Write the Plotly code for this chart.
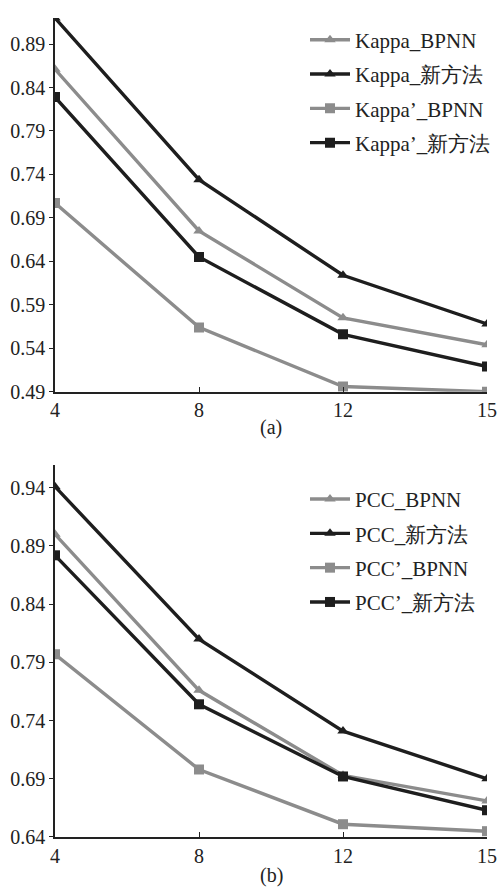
import plotly.graph_objects as go

x_labels = ["4", "8", "12", "15"]

kappa_bpnn = [0.861, 0.675, 0.575, 0.544]
kappa_new = [0.920, 0.734, 0.624, 0.568]
kappa2_bpnn = [0.707, 0.564, 0.496, 0.490]
kappa2_new = [0.829, 0.645, 0.556, 0.519]

pcc_bpnn = [0.900, 0.766, 0.693, 0.671]
pcc_new = [0.941, 0.810, 0.731, 0.690]
pcc2_bpnn = [0.797, 0.698, 0.651, 0.645]
pcc2_new = [0.882, 0.754, 0.692, 0.663]

kappa_ticks = [0.49, 0.54, 0.59, 0.64, 0.69, 0.74, 0.79, 0.84, 0.89]
pcc_ticks = [0.64, 0.69, 0.74, 0.79, 0.84, 0.89, 0.94]

GRAY = "#8c8c8c"
DARK = "#1e1e1e"
FONT = "Liberation Serif"

fig = go.Figure()

def add(name, ys, color, symbol, xa, ya, legend):
    fig.add_trace(go.Scatter(
        x=x_labels, y=ys, name=name, mode="lines+markers",
        line=dict(color=color, width=3.4),
        marker=dict(symbol=symbol, size=10, color=color),
        xaxis=xa, yaxis=ya, legend=legend, legendgroup=name))

add("Kappa_BPNN", kappa_bpnn, GRAY, "triangle-up", "x", "y", "legend")
add("Kappa_新方法", kappa_new, DARK, "triangle-up", "x", "y", "legend")
add("Kappa’_BPNN", kappa2_bpnn, GRAY, "square", "x", "y", "legend")
add("Kappa’_新方法", kappa2_new, DARK, "square", "x", "y", "legend")

add("PCC_BPNN", pcc_bpnn, GRAY, "triangle-up", "x2", "y2", "legend2")
add("PCC_新方法", pcc_new, DARK, "triangle-up", "x2", "y2", "legend2")
add("PCC’_BPNN", pcc2_bpnn, GRAY, "square", "x2", "y2", "legend2")
add("PCC’_新方法", pcc2_new, DARK, "square", "x2", "y2", "legend2")

xcommon = dict(type="category", range=[0, 3], showline=True, linecolor="#222",
               linewidth=1.5, ticks="inside", ticklen=5, tickcolor="#222",
               showgrid=False, zeroline=False, automargin=False,
               tickfont=dict(family=FONT, size=20, color="#222"))
ycommon = dict(showline=True, linecolor="#222", linewidth=1.5, ticks="outside",
               ticklen=4, tickcolor="#222", showgrid=False, zeroline=False,
               automargin=False,
               tickformat=".2f", tickfont=dict(family=FONT, size=20, color="#222"))

legcommon = dict(font=dict(family=FONT, size=21, color="#222"),
                 bgcolor="rgba(0,0,0,0)", xanchor="left", yanchor="top",
                 xref="container", yref="container",
                 itemwidth=40, tracegroupgap=4)

fig.update_layout(
    width=500, height=891,
    margin=dict(l=55, r=13, t=18, b=54, autoexpand=False),
    plot_bgcolor="white", paper_bgcolor="white",
    font=dict(family=FONT, size=20, color="#222"),
    showlegend=True,
    xaxis=dict(domain=[0, 1], anchor="y", **xcommon),
    yaxis=dict(domain=[0.5437, 1.0], anchor="x", range=[0.49, 0.92],
               tickvals=kappa_ticks, **ycommon),
    xaxis2=dict(domain=[0, 1], anchor="y2", **xcommon),
    yaxis2=dict(domain=[0.0, 0.4548], anchor="x2", range=[0.64, 0.96],
                tickvals=pcc_ticks, **ycommon),
    legend=dict(x=0.61, y=0.978, **legcommon),
    legend2=dict(x=0.61, y=0.4625, **legcommon),
    annotations=[
        dict(text="(a)", x=0.5, y=0.4994, xref="paper", yref="paper",
             showarrow=False, font=dict(family=FONT, size=20, color="#222"),
             xanchor="center", yanchor="middle"),
        dict(text="(b)", x=0.5, y=-0.0464, xref="paper", yref="paper",
             showarrow=False, font=dict(family=FONT, size=20, color="#222"),
             xanchor="center", yanchor="middle"),
    ],
)

fig.write_html("out.html", config={"displayModeBar": False},
               post_script="document.body.style.margin='0';")
